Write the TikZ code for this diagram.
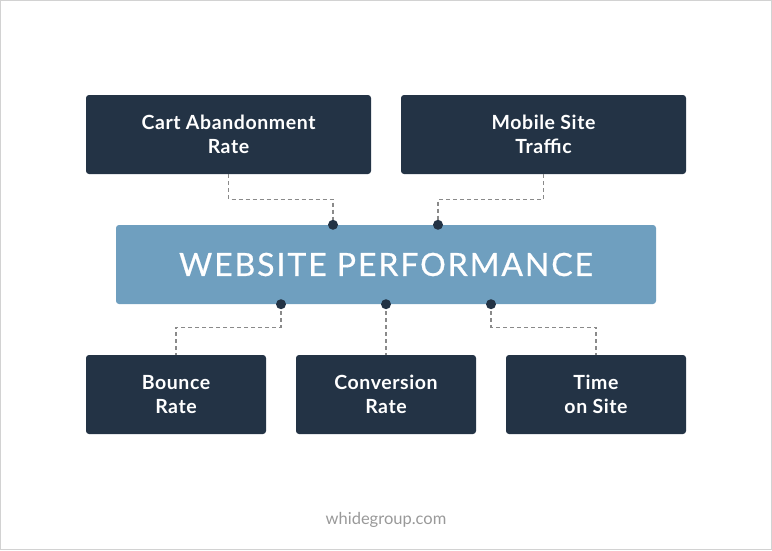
\documentclass[tikz,border=0pt]{standalone}
\usepackage{fontspec}
\setmainfont{Lato}
\usetikzlibrary{positioning}
\definecolor{navy}{HTML}{233345}
\definecolor{steel}{HTML}{6F9FBF}
\definecolor{dashgray}{HTML}{8A8A8A}

\begin{document}
\begin{tikzpicture}[x=1pt,y=-1pt,
  box/.style = {fill=navy,text=white,rounded corners=3pt,
        minimum height=79pt,align=center,
        font=\fontsize{19.5}{24}\selectfont\bfseries\addfontfeature{LetterSpace=3}},
  hub/.style = {fill=steel,text=white,rounded corners=3pt,
        minimum width=540pt,minimum height=79pt,
        font=\fontsize{32}{36}\selectfont\addfontfeature{LetterSpace=6,FakeBold=0.6}},
  link/.style = {dashgray,line width=1.3pt,dash pattern=on 4pt off 3pt},
  dot/.style = {circle,fill=navy,inner sep=0pt,minimum size=10pt}]
 \useasboundingbox (0,0) rectangle (772,550);
 \draw[gray!35] (0.5,0.5) rectangle (771.5,549.5);

 \node[box,minimum width=285pt] (cart) at(228.5,134.5) {Cart Abandonment\\ Rate};
 \node[box,minimum width=285pt] (mobile) at(543.5,134.5) {Mobile Site\\ Traffic};
 \node[hub] (web) at(386,264.5) {WEBSITE PERFORMANCE};
 \node[box,minimum width=180pt] (bounce) at(176,394.5) {Bounce\\ Rate};
 \node[box,minimum width=180pt] (conv) at(386,394.5) {Conversion\\ Rate};
 \node[box,minimum width=180pt] (time) at(596,394.5) {Time\\ on Site};

 \coordinate (d1) at ([xshift=-53pt] web.north);
 \coordinate (d2) at ([xshift=52pt] web.north);
 \coordinate (d3) at ([xshift=-105pt] web.south);
 \coordinate (d4) at (web.south);
 \coordinate (d5) at ([xshift=105pt] web.south);

 \draw[link] (cart.south) -- ++(0,25) -| (d1);
 \draw[link] (mobile.south) -- ++(0,25) -| (d2);
 \draw[link] (d3) -- ++(0,23) -| (bounce.north);
 \draw[link] (d4) -- (conv.north);
 \draw[link] (d5) -- ++(0,23) -| (time.north);

 \foreach \d in {d1,d2,d3,d4,d5}
   \node[dot] at (\d) {};

 \node[text=gray!80,font=\fontsize{16.5}{18}\selectfont] (site) at(386,520) {whidegroup.com};
\end{tikzpicture}
\end{document}
